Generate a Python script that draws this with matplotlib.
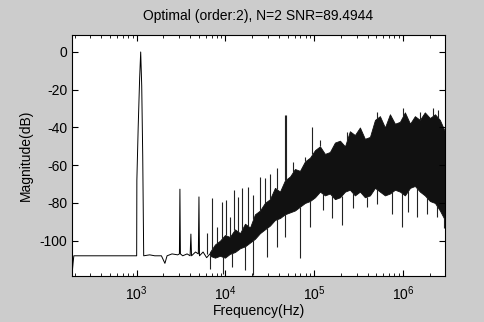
import numpy as np
import matplotlib.pyplot as plt

plt.rcParams['font.family'] = ['Liberation Sans', 'DejaVu Sans']
plt.rcParams['axes.unicode_minus'] = False

# low-frequency part of the spectrum (Hz, dB)
low_f = [187, 192, 196, 1000, 1005, 1040, 1080, 1110, 1140, 1170, 1200, 1400, 1600,
         1900, 2080, 2200, 2500, 2900, 3030, 3070, 3110, 3300, 3700, 4000, 4080, 4150,
         4600, 4950, 5030, 5100, 5600, 6140, 6690]
low_db = [-118, -112, -108, -108, -68, -40, -14, 0, -18, -55, -108, -107.5, -108,
          -108, -112, -108, -107, -107.5, -107, -72.7, -107, -108, -107, -108, -96.5, -108,
          -106, -107, -76.8, -108, -106, -109, -107]

# noise band: top and bottom edge of the black region
band_f = [6.69e3, 7.62e3, 8.67e3, 9.87e3, 11.2e3, 12.8e3, 14.6e3, 16.6e3, 18.9e3,
          21.5e3, 24.5e3, 27.8e3, 31.7e3, 36.1e3, 41.1e3, 46.8e3, 53.3e3, 60.6e3, 69.0e3,
          78.6e3, 89.5e3, 102e3, 116e3, 132e3, 150e3, 171e3, 195e3, 222e3, 252e3, 287e3,
          327e3, 372e3, 424e3, 483e3, 549e3, 626e3, 712e3, 811e3, 923e3, 1.05e6, 1.20e6,
          1.36e6, 1.55e6, 1.76e6, 2.01e6, 2.29e6, 2.60e6, 2.96e6]
band_top = [-106, -102, -100, -97, -98, -94, -96, -91, -93, -86, -84, -80, -78, -72,
            -74, -68, -66, -62, -63, -58, -56, -52, -50, -54, -53, -48, -47, -50, -42,
            -44, -40, -46, -45, -36, -34, -40, -33, -38, -37, -32, -38, -34, -36, -32,
            -35, -33, -36, -42]
band_bot = [-108, -109, -108, -109, -107, -106, -104, -103, -101, -99, -96, -94, -92,
            -89, -88, -86, -85, -84, -82, -80, -79, -77, -74, -76, -75, -78, -77, -74,
            -73, -76, -74, -77, -76, -72, -74, -76, -75, -73, -74, -76, -72, -71, -74,
            -76, -79, -80, -84, -89]

# isolated spikes above the band
up_f = [6.14e3, 6.99e3, 7.96e3, 9.06e3, 10.05e3, 11.2e3, 12.6e3, 13.9e3, 15.2e3,
        18.1e3, 20.6e3, 24.5e3, 27.8e3, 31.7e3, 37.7e3, 47.0e3, 47.6e3, 58.0e3, 78.6e3,
        95e3, 116e3, 232e3, 504e3, 1.005e6, 1.55e6, 2.19e6, 2.49e6]
up_db = [-96, -77.6, -92.7, -79.4, -78.5, -87.4, -73.2, -76.8, -72.3, -71.4, -75.9,
         -66.1, -67, -64.4, -61.7, -33.4, -33.4, -58.2, -55.5, -39.6, -46.7, -42.3,
         -31.7, -29.9, -31.7, -29.9, -30.8]

# isolated spikes below the band
dn_f = [6.69e3, 9.45e3, 11.7e3, 16.6e3, 20.6e3, 29.1e3, 37.7e3, 46.8e3, 69.0e3,
        89.5e3, 126e3, 157e3, 203e3, 275e3, 389e3, 504e3, 744e3, 965e3, 1.145e6,
        1.42e6, 1.84e6, 2.39e6, 2.89e6]
dn_db = [-114.8, -117.4, -113.9, -115.6, -118.3, -108.6, -103.3, -98, -109.4, -92.7,
         -83.8, -88.2, -91.8, -82.9, -82, -80.3, -85.6, -92.7, -84.7, -87.4, -85.6,
         -87.4, -93.5]

fig = plt.figure(figsize=(4.84, 3.22), dpi=100, facecolor='#cccccc')
ax = fig.add_axes([0.1488, 0.1429, 0.7706, 0.7484])

ax.semilogx(low_f, low_db, color='k', linewidth=0.7)
ax.fill_between(band_f, band_bot, band_top, color='#111111', linewidth=0.6, edgecolor='#111111')
ax.vlines(up_f, np.interp(up_f, band_f, band_top, left=-107), up_db, color='#222222', linewidth=0.8)
ax.vlines(dn_f, dn_db, np.interp(dn_f, band_f, band_bot, left=-107), color='#222222', linewidth=0.8)

ax.set_xlim(187, 2.97e6)
ax.set_ylim(-118.7, 9)
ax.set_yticks([0, -20, -40, -60, -80, -100])
ax.tick_params(which='both', direction='in', top=True, right=True, labelsize=10)
ax.tick_params(which='major', length=4)
ax.tick_params(axis='x', which='major', pad=6)
ax.tick_params(which='minor', length=2.5)

ax.set_title("Optimal (order:2), N=2 SNR=89.4944", fontsize=10, pad=11)
ax.set_xlabel("Frequency(Hz)", fontsize=10, labelpad=1)
ax.set_ylabel("Magnitude(dB)", fontsize=10, labelpad=5)

fig.savefig('out.png', dpi=100, facecolor=fig.get_facecolor())
